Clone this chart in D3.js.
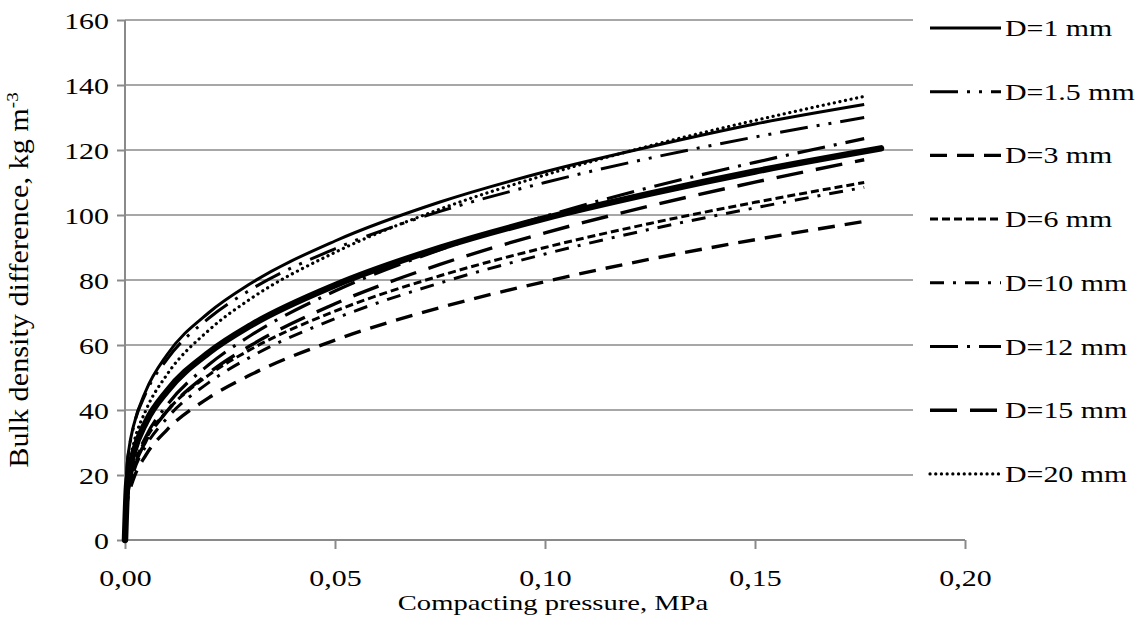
<!DOCTYPE html>
<html>
<head>
<meta charset="utf-8">
<script src="https://cdn.jsdelivr.net/npm/d3@7"></script>
<style>
  body { margin: 0; background: #fff; }
  text { font-family: "Liberation Serif", "Times New Roman", serif; fill: #000; }
</style>
</head>
<body>
<div id="root"></div>
<script>
// compacting pressure, MPa (shared by the D series)
var pressure = [0, 0.0005, 0.001, 0.002, 0.005, 0.01, 0.02, 0.03, 0.05, 0.075, 0.1, 0.125, 0.15, 0.176];
// the thick unlabeled curve runs a bit further
var pressureThick = [0, 0.0005, 0.001, 0.002, 0.005, 0.01, 0.02, 0.03, 0.05, 0.075, 0.1, 0.125, 0.15, 0.18];

// bulk density difference, kg m-3
var d1   = [0, 23, 28.5, 35, 46, 57, 70, 79, 92, 104, 113.3, 121, 128, 134];
var d1_5 = [0, 22.9, 28.1, 34.6, 45.3, 55.6, 68.3, 77.1, 89.6, 101.1, 110, 117.5, 124, 130];
var d3v  = [0, 11.2, 14.5, 18.7, 26.2, 33.9, 43.8, 50.9, 61.5, 71.5, 79.5, 86.4, 92.4, 98];
var d6   = [0, 13.7, 17.5, 22.4, 31.1, 39.7, 50.8, 58.7, 70.4, 81.3, 90, 97.4, 103.9, 110];
var d10  = [0, 12.4, 16, 20.7, 29, 37.5, 48.5, 56.4, 68.1, 79.1, 88, 95.6, 102.2, 108.5];
var d12  = [0, 13.3, 17.3, 22.5, 31.9, 41.5, 54, 63, 76.6, 89.3, 99.6, 108.5, 116.2, 123.5];
var d15  = [0, 12.8, 16.6, 21.5, 30.5, 39.6, 51.4, 59.9, 72.7, 84.8, 94.5, 102.8, 110.1, 117];
var d20  = [0, 18, 23, 29.3, 40, 50.9, 64.6, 74.3, 88.5, 101.8, 112.3, 121.3, 129.1, 136.5];
var thick = [0, 16.8, 21.1, 26.7, 36.3, 45.8, 57.7, 66.1, 78.4, 89.9, 99, 106.6, 113.4, 120.5];

var seriesNames = ["D=1 mm", "D=1.5 mm", "D=3 mm", "D=6 mm", "D=10 mm", "D=12 mm", "D=15 mm", "D=20 mm"];

var yTicks = [0, 20, 40, 60, 80, 100, 120, 140, 160];
var xTicks = [0, 0.05, 0.10, 0.15, 0.20];
var xTickLabels = ["0,00", "0,05", "0,10", "0,15", "0,20"];

var width = 1137, height = 629;
var sx = 1.3; // text in the original is stretched horizontally

var svg = d3.select("#root").append("svg")
    .attr("width", width)
    .attr("height", height);

var x = d3.scaleLinear().domain([0, 0.2]).range([125, 965]);
var y = d3.scaleLinear().domain([0, 160]).range([540, 20]);

// gridlines (cut off where the legend sits)
svg.selectAll(".grid")
    .data(yTicks.filter(function (d) { return d > 0; }))
    .enter().append("line")
    .attr("x1", 125).attr("x2", 913)
    .attr("y1", function (d) { return y(d); })
    .attr("y2", function (d) { return y(d); })
    .attr("stroke", "#8a8a8a")
    .attr("stroke-width", 1.6);

// axes
var yAxis = svg.append("g")
    .attr("transform", "translate(125,0)")
    .call(d3.axisLeft(y).tickValues(yTicks).tickSize(8).tickFormat(function (d) { return d; }));
var xAxis = svg.append("g")
    .attr("transform", "translate(0,540)")
    .call(d3.axisBottom(x).tickValues(xTicks).tickSize(9).tickFormat(function (d, i) { return xTickLabels[i]; }));

[yAxis, xAxis].forEach(function (ax) {
    ax.select(".domain").attr("stroke", "#8a8a8a").attr("stroke-width", 2);
    ax.selectAll(".tick line").attr("stroke", "#8a8a8a").attr("stroke-width", 2);
    ax.selectAll("text").attr("font-family", "Liberation Serif").attr("font-size", 23).attr("fill", "#000");
});
yAxis.select(".domain").attr("d", "M0,20V540");
xAxis.select(".domain").attr("d", "M125,0H965");
yAxis.selectAll(".tick text")
    .attr("x", null).attr("dy", null)
    .attr("text-anchor", "end")
    .attr("transform", "translate(-16,8) scale(" + sx + ",1)");
xAxis.selectAll(".tick text")
    .attr("y", null).attr("dy", null)
    .attr("transform", "translate(0,46) scale(" + sx + ",1)");

// axis titles
svg.append("text")
    .attr("transform", "translate(553,610) scale(" + sx + ",1)")
    .attr("text-anchor", "middle")
    .attr("font-size", 22)
    .text("Compacting pressure, MPa");

var yt = svg.append("text")
    .attr("transform", "translate(28,280) rotate(-90) scale(1.12,1)")
    .attr("text-anchor", "middle")
    .attr("font-size", 27);
yt.append("tspan").text("Bulk density difference, kg m");
yt.append("tspan").attr("dy", -10).attr("font-size", 17).text("-3");

// series styles
var styles = [
    { w: 3, dash: null, cap: "butt" },
    { w: 3, dash: "28 9 3 9 3 9", cap: "butt" },
    { w: 3.4, dash: "17 10", cap: "butt" },
    { w: 3, dash: "8 4", cap: "butt" },
    { w: 3, dash: "14 9 3 9", cap: "butt" },
    { w: 3.2, dash: "28 9 3 9", cap: "butt" },
    { w: 3.4, dash: "27 13", cap: "butt" },
    { w: 3.2, dash: "0.1 5.6", cap: "round" }
];
var values = [d1, d1_5, d3v, d6, d10, d12, d15, d20];

var line = d3.line()
    .x(function (d) { return x(d[0]); })
    .y(function (d) { return y(d[1]); })
    .curve(d3.curveMonotoneX);

var plot = svg.append("g");

plot.append("path")
    .datum(d3.zip(pressureThick, thick))
    .attr("d", line)
    .attr("fill", "none")
    .attr("stroke", "#000")
    .attr("stroke-width", 6.5)
    .attr("stroke-linecap", "round");

values.forEach(function (v, i) {
    var s = styles[i];
    plot.append("path")
        .datum(d3.zip(pressure, v))
        .attr("d", line)
        .attr("fill", "none")
        .attr("stroke", "#000")
        .attr("stroke-width", s.w)
        .attr("stroke-linecap", s.cap)
        .attr("stroke-dasharray", s.dash);
});

// legend
var leg = svg.append("g");
seriesNames.forEach(function (name, i) {
    var ly = 28 + i * 63.7;
    var s = styles[i];
    leg.append("line")
        .attr("x1", 930).attr("x2", 1001)
        .attr("y1", ly).attr("y2", ly)
        .attr("stroke", "#000")
        .attr("stroke-width", s.w)
        .attr("stroke-linecap", s.cap)
        .attr("stroke-dasharray", s.dash);
    leg.append("text")
        .attr("transform", "translate(1005," + (ly + 8) + ") scale(" + sx + ",1)")
        .attr("font-size", 23)
        .text(name);
});
</script>
</body>
</html>
